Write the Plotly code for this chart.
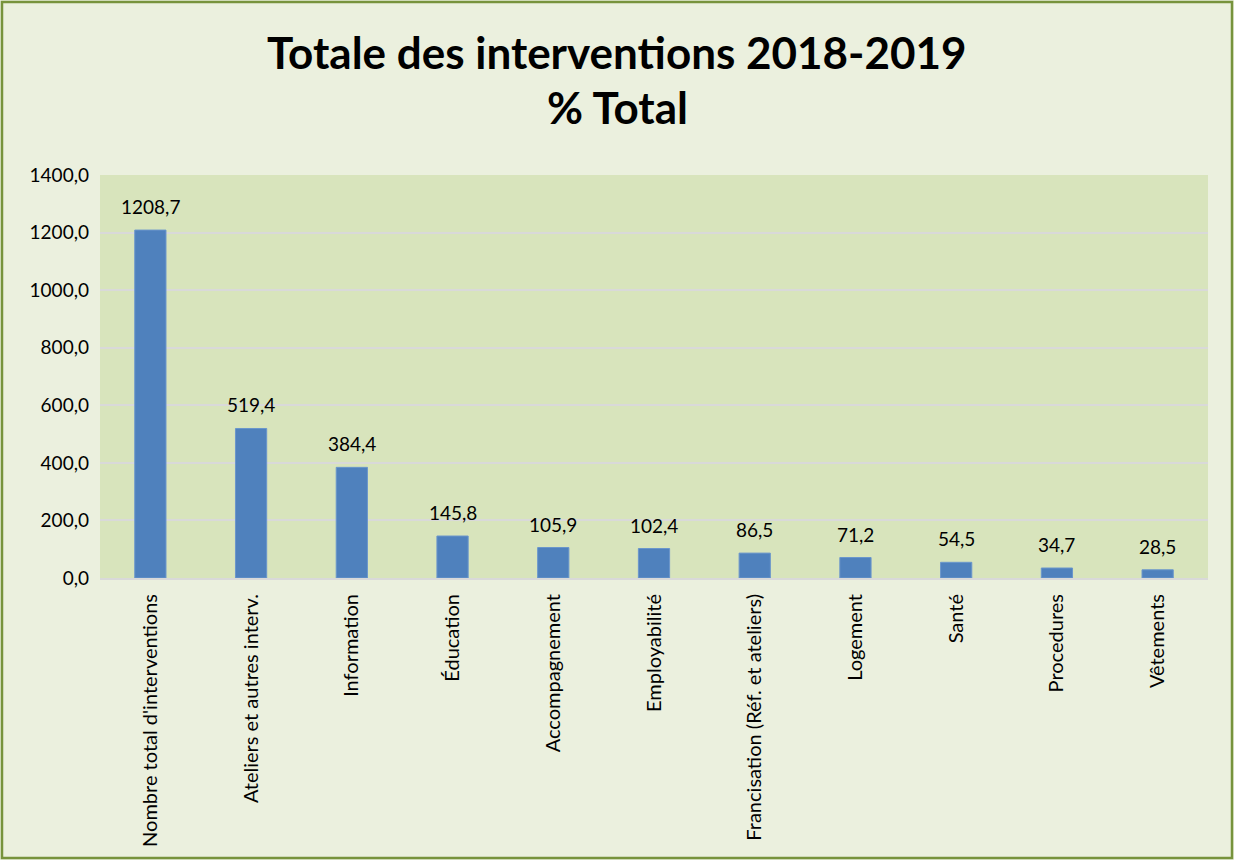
import plotly.graph_objects as go

categories = [
    "Nombre total d'interventions",
    "Ateliers et autres interv.",
    "Information",
    "Éducation",
    "Accompagnement",
    "Employabilité",
    "Francisation (Réf. et ateliers)",
    "Logement",
    "Santé",
    "Procedures",
    "Vêtements",
]
values = [1208.7, 519.4, 384.4, 145.8, 105.9, 102.4, 86.5, 71.2, 54.5, 34.7, 28.5]
y_ticks = [0, 200, 400, 600, 800, 1000, 1200, 1400]
title_lines = ['Totale des interventions 2018-2019', '% Total']

W, H = 1234, 860
ml, mr, mt, mb = 100, 26, 175, 282
pw, ph = W - ml - mr, H - mt - mb

font = "Lato, 'Open Sans', sans-serif"

fig = go.Figure()
fig.add_trace(go.Bar(
    x=categories,
    y=values,
    marker=dict(color='#4F81BD', line=dict(color='#6A96CC', width=1)),
    width=0.31,
    hovertemplate='%{x}: %{y:.1f}<extra></extra>',
))

for c, v in zip(categories, values):
    fig.add_annotation(
        x=c, y=v, text=f"{v:.1f}".replace('.', ','),
        showarrow=False, yanchor='bottom', yshift=10,
        font=dict(family=font, size=19, color='#000000'),
    )

# title as two centred lines
for line, yc in zip(title_lines, [52, 107]):
    fig.add_annotation(
        text=f'<b>{line}</b>', showarrow=False,
        xref='paper', yref='paper',
        x=(W / 2 - ml) / pw, xanchor='center',
        y=1 + (mt - yc) / ph, yanchor='middle',
        font=dict(family=font, size=44, color='#000000'),
    )

# outer green border around the whole chart
fig.add_shape(
    type='rect', xref='paper', yref='paper',
    x0=(2 - ml) / pw, x1=(W - 2 - ml) / pw,
    y0=-(mb - 2) / ph, y1=1 + (mt - 2) / ph,
    line=dict(color='#77933C', width=2.5), layer='below',
)

fig.update_layout(
    width=W, height=H,
    margin=dict(l=ml, r=mr, t=mt, b=mb),
    paper_bgcolor='#EBF0DE',
    plot_bgcolor='#D8E4BC',
    separators=', ',
    showlegend=False,
    font=dict(family=font, color='#000000'),
    xaxis=dict(
        tickangle=-90,
        tickfont=dict(family=font, size=20),
        showline=True, linecolor='#D9D9D9', linewidth=2,
        ticks='', showgrid=False, ticklabelstandoff=6,
    ),
    yaxis=dict(
        range=[0, 1400],
        tickvals=y_ticks,
        tickformat='.1f',
        tickfont=dict(family=font, size=19),
        gridcolor='#D9D9D9', gridwidth=2,
        zeroline=False,
        ticks='', ticklabelstandoff=10,
    ),
    bargap=0.69,
)

fig.write_html(
    "out.html",
    config={'displayModeBar': False},
    post_script="document.body.style.margin='0';document.body.style.overflow='hidden';",
)
